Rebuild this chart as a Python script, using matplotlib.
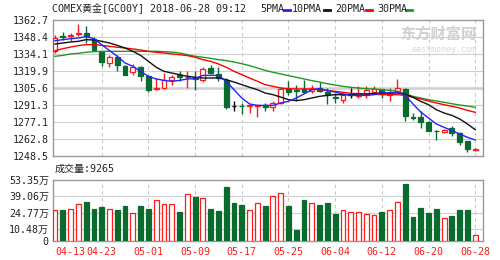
import numpy as np
import matplotlib.pyplot as plt
from matplotlib.lines import Line2D

plt.rcParams['font.family'] = ['DejaVu Sans Mono', 'Noto Sans CJK SC']
plt.rcParams['font.size'] = 7.2

# 日K数据 (04-13 ~ 06-28)
kai = [1336.4, 1349.5, 1349.5, 1350.8, 1351.8, 1347.0, 1335.8, 1326.6, 1331.4, 1323.8,
       1318.8, 1323.0, 1315.4, 1305.0, 1305.6, 1312.3, 1316.2, 1314.5, 1314.5, 1312.6,
       1322.4, 1317.4, 1312.6, 1290.2, 1290.8, 1290.2, 1290.2, 1291.0, 1289.4, 1293.0,
       1305.0, 1304.2, 1305.0, 1303.4, 1305.6, 1302.0, 1297.8, 1295.8, 1300.0, 1298.6,
       1299.4, 1302.2, 1304.8, 1300.0, 1302.8, 1305.0, 1281.0, 1281.0, 1277.0, 1269.8,
       1268.6, 1272.0, 1267.8, 1260.8, 1253.6]
tinggi = [1349.8, 1352.6, 1352.0, 1359.3, 1357.4, 1348.1, 1336.4, 1333.6, 1333.6, 1324.6,
          1326.0, 1323.8, 1316.8, 1314.0, 1318.2, 1316.2, 1319.6, 1319.6, 1319.6, 1323.2,
          1325.2, 1323.0, 1314.0, 1295.0, 1293.0, 1292.2, 1291.3, 1293.0, 1294.4, 1306.2,
          1311.2, 1308.4, 1312.6, 1308.4, 1310.4, 1305.6, 1301.4, 1301.4, 1305.6, 1307.0,
          1307.0, 1307.0, 1305.0, 1305.6, 1313.4, 1305.6, 1284.6, 1286.6, 1277.6, 1270.6,
          1271.0, 1273.4, 1268.4, 1261.4, 1255.2]
rendah = [1335.0, 1346.0, 1345.0, 1349.0, 1343.4, 1336.4, 1323.8, 1323.0, 1319.6, 1316.2,
          1316.2, 1311.2, 1302.2, 1304.2, 1305.0, 1308.4, 1311.7, 1305.6, 1304.2, 1310.6,
          1317.4, 1311.2, 1288.3, 1286.0, 1284.0, 1284.6, 1281.0, 1286.6, 1286.6, 1292.2,
          1300.0, 1295.0, 1301.4, 1301.4, 1302.2, 1292.2, 1293.0, 1293.0, 1297.2, 1297.2,
          1297.2, 1301.4, 1297.2, 1294.4, 1302.2, 1278.2, 1279.0, 1272.0, 1269.2, 1262.2,
          1268.0, 1265.0, 1258.0, 1251.8, 1253.0]
tutup = [1347.6, 1348.8, 1350.5, 1351.5, 1349.0, 1337.2, 1327.1, 1331.6, 1324.6, 1316.8,
         1323.0, 1315.4, 1304.2, 1306.0, 1312.3, 1315.1, 1314.5, 1315.0, 1313.5, 1321.6,
         1318.2, 1314.0, 1289.4, 1290.2, 1290.2, 1291.0, 1291.0, 1290.0, 1293.0, 1305.0,
         1302.2, 1303.4, 1302.2, 1305.0, 1303.4, 1299.4, 1297.2, 1300.0, 1300.0, 1300.0,
         1304.2, 1305.0, 1301.4, 1301.4, 1305.6, 1281.8, 1280.8, 1277.0, 1269.8, 1269.2,
         1270.6, 1267.8, 1260.2, 1254.6, 1254.0]
# 成交量 (万)
volume = [27.3, 27.3, 28.2, 32.0, 34.4, 28.4, 29.3, 28.2, 27.3, 30.2,
          24.6, 30.2, 28.4, 35.8, 32.0, 32.0, 25.2, 40.9, 38.5, 37.3,
          27.6, 26.0, 46.8, 33.5, 31.1, 27.3, 32.9, 30.2, 39.1, 42.4,
          30.2, 9.2, 36.2, 33.5, 31.1, 32.9, 23.7, 27.3, 25.8, 25.8,
          23.4, 22.5, 25.2, 27.3, 34.4, 50.0, 21.1, 29.0, 24.3, 28.4,
          19.8, 21.6, 26.7, 26.7, 5.1]
ma5 = [1345.3, 1346.2, 1347.0, 1347.6, 1348.7, 1347.0, 1342.0, 1337.0, 1332.2, 1326.6,
       1323.8, 1319.6, 1315.4, 1313.2, 1312.0, 1311.2, 1312.0, 1313.2, 1313.4, 1316.2,
       1316.2, 1316.2, 1311.2, 1304.2, 1297.2, 1292.2, 1291.0, 1291.0, 1291.0, 1293.0,
       1294.4, 1297.2, 1300.6, 1304.2, 1305.0, 1303.4, 1302.2, 1300.6, 1299.4, 1299.4,
       1299.4, 1300.0, 1301.4, 1301.4, 1302.2, 1299.4, 1292.2, 1285.4, 1280.4, 1275.4,
       1272.6, 1269.8, 1267.0, 1264.2, 1262.0]
ma10 = [1342.5, 1343.4, 1344.2, 1344.8, 1346.2, 1345.9, 1344.8, 1343.4, 1341.4, 1339.2,
        1336.4, 1333.0, 1328.0, 1323.0, 1319.6, 1318.2, 1316.8, 1315.4, 1314.6, 1314.0,
        1314.0, 1314.0, 1312.6, 1310.6, 1308.4, 1306.2, 1304.2, 1301.4, 1300.0, 1298.0,
        1295.8, 1295.0, 1295.8, 1297.2, 1298.6, 1299.4, 1300.0, 1300.0, 1300.0, 1300.6,
        1300.6, 1301.1, 1301.4, 1301.4, 1301.4, 1300.6, 1297.8, 1294.4, 1291.6, 1287.4,
        1284.6, 1282.6, 1279.6, 1275.4, 1270.6]
ma20 = [1336.9, 1338.6, 1340.0, 1341.2, 1342.0, 1342.0, 1341.4, 1340.6, 1339.8, 1339.2,
        1338.4, 1337.5, 1336.4, 1335.6, 1335.0, 1334.2, 1333.6, 1332.8, 1331.4, 1329.4,
        1328.0, 1325.8, 1323.0, 1319.6, 1316.8, 1314.0, 1311.2, 1308.4, 1307.0, 1305.6,
        1305.0, 1304.8, 1304.8, 1304.8, 1304.2, 1303.6, 1302.8, 1302.0, 1301.1, 1300.8,
        1300.6, 1300.3, 1300.0, 1300.0, 1300.0, 1299.4, 1297.8, 1296.4, 1294.7, 1293.0,
        1291.6, 1290.2, 1288.8, 1286.8, 1285.2]
ma30 = [1332.2, 1333.0, 1334.2, 1334.7, 1335.6, 1336.1, 1336.4, 1336.4, 1336.4, 1336.4,
        1336.4, 1336.4, 1336.4, 1336.4, 1336.1, 1335.8, 1335.0, 1333.6, 1332.2, 1331.4,
        1330.5, 1329.4, 1328.6, 1327.4, 1326.0, 1324.4, 1322.4, 1320.4, 1318.8, 1317.4,
        1316.0, 1314.6, 1313.2, 1311.8, 1310.6, 1309.2, 1308.1, 1307.0, 1306.2, 1305.6,
        1305.0, 1304.8, 1304.2, 1303.6, 1302.8, 1300.6, 1298.6, 1297.2, 1295.8, 1294.7,
        1293.6, 1292.4, 1291.3, 1290.5, 1289.4]
label_tanggal = ['04-13', '04-23', '05-01', '05-09', '05-17', '05-25', '06-04', '06-12', '06-20', '06-28']
harga_ticks = [1248.5, 1262.8, 1277.1, 1291.3, 1305.6, 1319.9, 1334.1, 1348.4, 1362.7]
vol_ticks = [0, 10.48, 24.77, 39.06, 53.35]
vol_labels = ['0', '10.48万', '24.77万', '39.06万', '53.35万']

MERAH = '#FF1A1A'
HIJAU = '#0A6B2E'
n = len(tutup)
x = np.arange(n)
o = np.array(kai); c = np.array(tutup)

# arah: naik / turun / doji (doji ikut arah sebelumnya untuk volume)
arah = []
for i in range(n):
    if c[i] > o[i]:
        arah.append(1)
    elif c[i] < o[i]:
        arah.append(-1)
    else:
        arah.append(0)
arah_vol = []
for i in range(n):
    a = arah[i]
    if a == 0:
        a = arah_vol[-1] if i > 0 else 1
    arah_vol.append(a)

fig = plt.figure(figsize=(5, 2.6), dpi=100)
ax = fig.add_axes([53/500, 1-156/260, 430/500, 136/260])
axv = fig.add_axes([53/500, 1-241/260, 430/500, 61/260])

for a in (ax, axv):
    a.set_xlim(-0.26, 55.0)
    for s in a.spines.values():
        s.set_color('#9A9A9A')
        s.set_linewidth(1)
    a.tick_params(length=0, labelsize=7.2, colors='#222222', pad=3)
    for k in range(6, n, 6):
        a.axvline(k, color='#C8C8C8', lw=0.8, ls=(0, (3, 3)), zorder=0)

# panel harga
ax.set_ylim(harga_ticks[0], harga_ticks[-1])
ax.set_yticks(harga_ticks)
ax.set_yticklabels(['%.1f' % v for v in harga_ticks])
for v in harga_ticks[1:-1]:
    lw = 1.8 if v == 1305.6 else 0.8
    ax.axhline(v, color='#CFCFCF', lw=lw, zorder=0)
ax.set_xticks([])

w = 0.62
for i in range(n):
    if arah[i] == 0:
        ax.vlines(x[i], rendah[i], tinggi[i], color='black', lw=1, zorder=3)
        ax.hlines(c[i], x[i]-w/2, x[i]+w/2, color='black', lw=1, zorder=3)
        continue
    warna = MERAH if arah[i] > 0 else HIJAU
    ax.vlines(x[i], rendah[i], tinggi[i], color=warna, lw=1, zorder=3)
    bawah = min(o[i], c[i])
    tinggi_badan = max(abs(c[i]-o[i]), 0.3)
    ax.bar(x[i], tinggi_badan, w, bottom=bawah,
           facecolor='white' if arah[i] > 0 else HIJAU,
           edgecolor=warna, lw=0.9, zorder=4)

ax.plot(x, ma30, color='#1E9A1E', lw=1, zorder=5)
ax.plot(x, ma20, color='#FF0000', lw=1, zorder=5)
ax.plot(x, ma10, color='#111111', lw=1, zorder=5)
ax.plot(x, ma5, color='#2222FF', lw=1, zorder=5)

# watermark
ax.text(0.985, 0.90, '东方财富网', transform=ax.transAxes, ha='right', va='center',
        fontsize=11, color='#D0D0D0', fontweight='bold', family='Noto Sans CJK SC', zorder=1)
ax.text(0.985, 0.78, 'eastmoney.com', transform=ax.transAxes, ha='right', va='center',
        fontsize=6, color='#D8D8D8', zorder=1)

# panel volume
axv.set_ylim(0, 53.35)
axv.set_yticks(vol_ticks)
axv.set_yticklabels(vol_labels)
for v in vol_ticks[1:-1]:
    axv.axhline(v, color='#CFCFCF', lw=0.8, zorder=0)
for i in range(n):
    if arah_vol[i] > 0:
        axv.bar(x[i], volume[i], w, facecolor='white', edgecolor=MERAH, lw=0.9, zorder=3)
    else:
        axv.bar(x[i], volume[i], w, facecolor=HIJAU, edgecolor=HIJAU, lw=0.9, zorder=3)
posisi = list(range(0, n, 6))
axv.set_xticks(posisi)
axv.set_xticklabels(label_tanggal, color=MERAH)
axv.get_xticklabels()[0].set_horizontalalignment('left')
axv.tick_params(axis='x', pad=4)

# judul dan legenda
fig.text(52/500, 1-9/260, 'COMEX黄金[GC00Y] 2018-06-28 09:12', va='center', ha='left', color='#222222')
legenda = [('5PMA', 260, 284, '#2222FF'), ('10PMA', 292, 324, '#111111'),
           ('20PMA', 335, 366, '#FF0000'), ('30PMA', 377, 406, '#1E9A1E')]
for teks, xt, xm, wr in legenda:
    fig.text(xt/500, 1-9/260, teks, va='center', ha='left', color='#222222')
    fig.add_artist(Line2D([xm/500, (xm+6)/500], [1-10/260, 1-10/260], color=wr, lw=2))

fig.text(55/500, 1-169/260, '成交量:9265', va='center', ha='left', color='#222222')

fig.savefig('out.png', dpi=100)
